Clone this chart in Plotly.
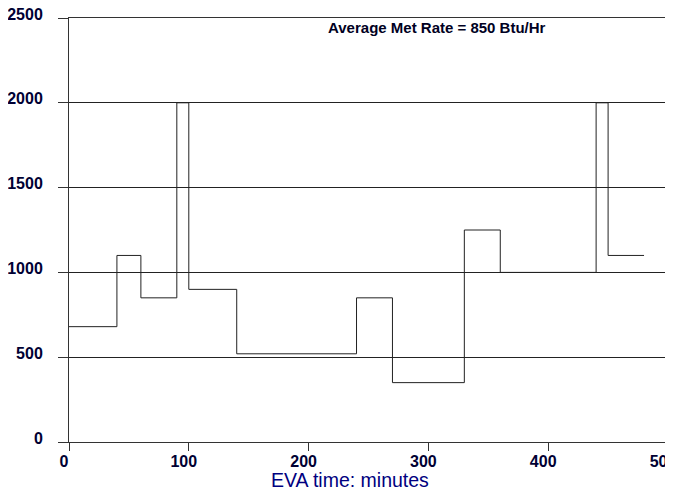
import plotly.graph_objects as go

# Step start times (minutes) and metabolic rate (Btu/Hr); last point closes final step
eva_time = [0, 40, 60, 90, 100, 140, 240, 270, 330, 360, 440, 450, 480]
met_rate = [680, 1100, 850, 2000, 900, 520, 850, 350, 1250, 1000, 2000, 1100, 1100]

x_ticks = [0, 100, 200, 300, 400, 500]
y_ticks = [0, 500, 1000, 1500, 2000, 2500]
note_text = "Average Met Rate = 850 Btu/Hr"
x_title = "EVA time: minutes"

fig = go.Figure()
fig.add_trace(go.Scatter(
    x=eva_time, y=met_rate, mode="lines", line_shape="hv",
    line=dict(color="#222222", width=1), showlegend=False, hoverinfo="skip"))

tick_font = dict(family="Liberation Sans, Arial, sans-serif", size=16, color="#000033", weight="bold")

# page has an 8px body margin; compensate so the plot lands at the reference pixels
OFF = 8
W, H = 673 - OFF, 490 - OFF
L, T = 69 - OFF, 18 - OFF
R = W - (668 - OFF)
B = H - (442 - OFF)
plot_w = W - L - R
plot_h = H - T - B


def px(xp):
    return (xp - OFF - L) / plot_w


def py(yp):
    return (H - B - (yp - OFF)) / plot_h


fig.update_layout(
    width=W, height=H,
    margin=dict(l=L, r=R, t=T, b=B),
    paper_bgcolor="white", plot_bgcolor="white",
    xaxis=dict(range=[0, 500], tickvals=x_ticks, showgrid=False, zeroline=False,
               showline=True, linecolor="#333333", linewidth=1, mirror=True,
               ticks="outside", ticklen=8, tickcolor="#333333", tickfont=tick_font,
               ticklabelshift=-5, ticklabelstandoff=-3, ticklabeloverflow="allow",
               automargin=False),
    yaxis=dict(range=[0, 2500], tickvals=y_ticks, showgrid=True, gridcolor="#222222",
               gridwidth=1, zeroline=False,
               showline=True, linecolor="#333333", linewidth=1, mirror=True,
               ticks="outside", ticklen=10, tickcolor="#333333", tickfont=tick_font,
               ticklabelstandoff=12, ticklabelshift=-4, ticklabeloverflow="allow",
               automargin=False),
    annotations=[
        dict(text=note_text, x=px(437), y=py(27),
             xref="paper", yref="paper",
             xanchor="center", yanchor="middle", showarrow=False,
             font=dict(family="Liberation Sans, Arial, sans-serif", size=15,
                       color="#000022", weight="bold")),
        dict(text=x_title, x=px(350), y=py(480),
             xref="paper", yref="paper", showarrow=False,
             xanchor="center", yanchor="middle",
             font=dict(family="Liberation Sans, Arial, sans-serif", size=19.5, color="#000080")),
    ],
)

fig.write_html("out.html")
